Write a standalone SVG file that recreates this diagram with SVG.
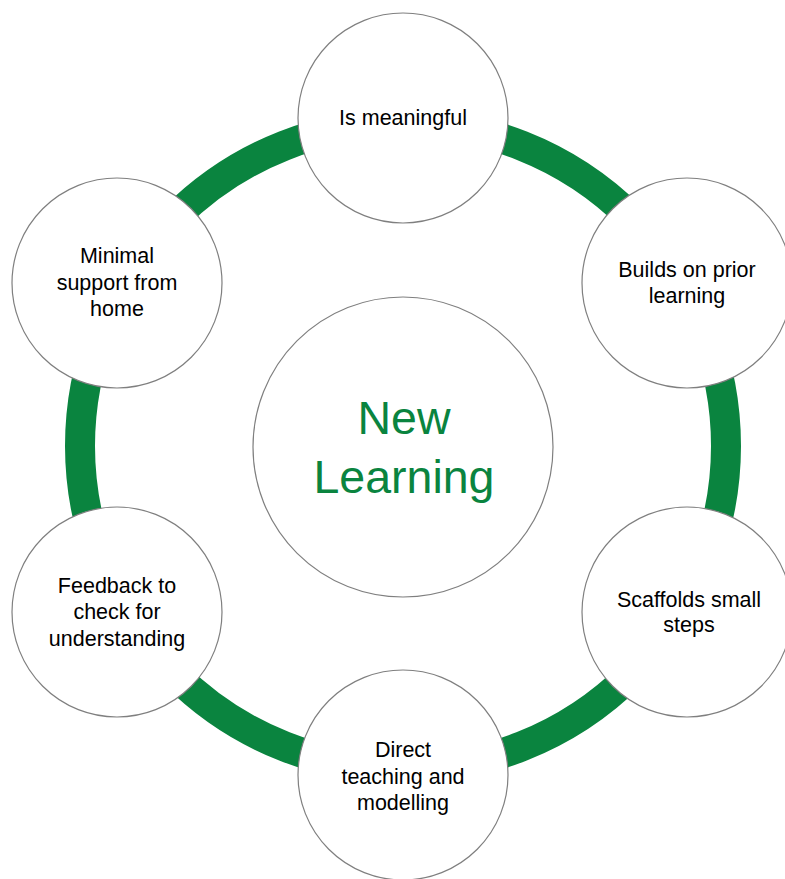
<svg xmlns="http://www.w3.org/2000/svg" width="785" height="879" viewBox="0 0 785 879">
<style>
.node{fill:#ffffff;stroke:#7f7f7f;stroke-width:1.2}
.lbl{font-family:"Liberation Sans",Arial,sans-serif;font-size:21.5px;fill:#000000;text-anchor:middle}
.big{font-family:"Liberation Sans",Arial,sans-serif;font-size:46.5px;fill:#0a843f;text-anchor:middle}
</style>
<rect width="785" height="879" fill="#ffffff"/>
<g id="connectors">
<circle cx="403" cy="446" r="323" fill="none" stroke="#0a843f" stroke-width="30"/>
</g>
<g id="center">
<circle class="node" cx="403" cy="447" r="150"/>
<text class="big" x="404" y="434">New</text>
<text class="big" x="404" y="493">Learning</text>
</g>
<g id="n1">
<circle class="node" cx="403" cy="118" r="105"/>
<text class="lbl" x="403" y="125">Is meaningful</text>
</g>
<g id="n2">
<circle class="node" cx="687" cy="283" r="105"/>
<text class="lbl" x="687" y="277">Builds on prior</text>
<text class="lbl" x="687" y="303">learning</text>
</g>
<g id="n3">
<circle class="node" cx="687" cy="612" r="105"/>
<text class="lbl" x="689" y="607">Scaffolds small</text>
<text class="lbl" x="689" y="632">steps</text>
</g>
<g id="n4">
<circle class="node" cx="403" cy="775" r="105"/>
<text class="lbl" x="403" y="757">Direct</text>
<text class="lbl" x="403" y="784">teaching and</text>
<text class="lbl" x="403" y="810">modelling</text>
</g>
<g id="n5">
<circle class="node" cx="117" cy="612" r="105"/>
<text class="lbl" x="117" y="593">Feedback to</text>
<text class="lbl" x="117" y="619">check for</text>
<text class="lbl" x="117" y="646">understanding</text>
</g>
<g id="n6">
<circle class="node" cx="117" cy="283" r="105"/>
<text class="lbl" x="117" y="263">Minimal</text>
<text class="lbl" x="117" y="290">support from</text>
<text class="lbl" x="117" y="316">home</text>
</g>
</svg>
